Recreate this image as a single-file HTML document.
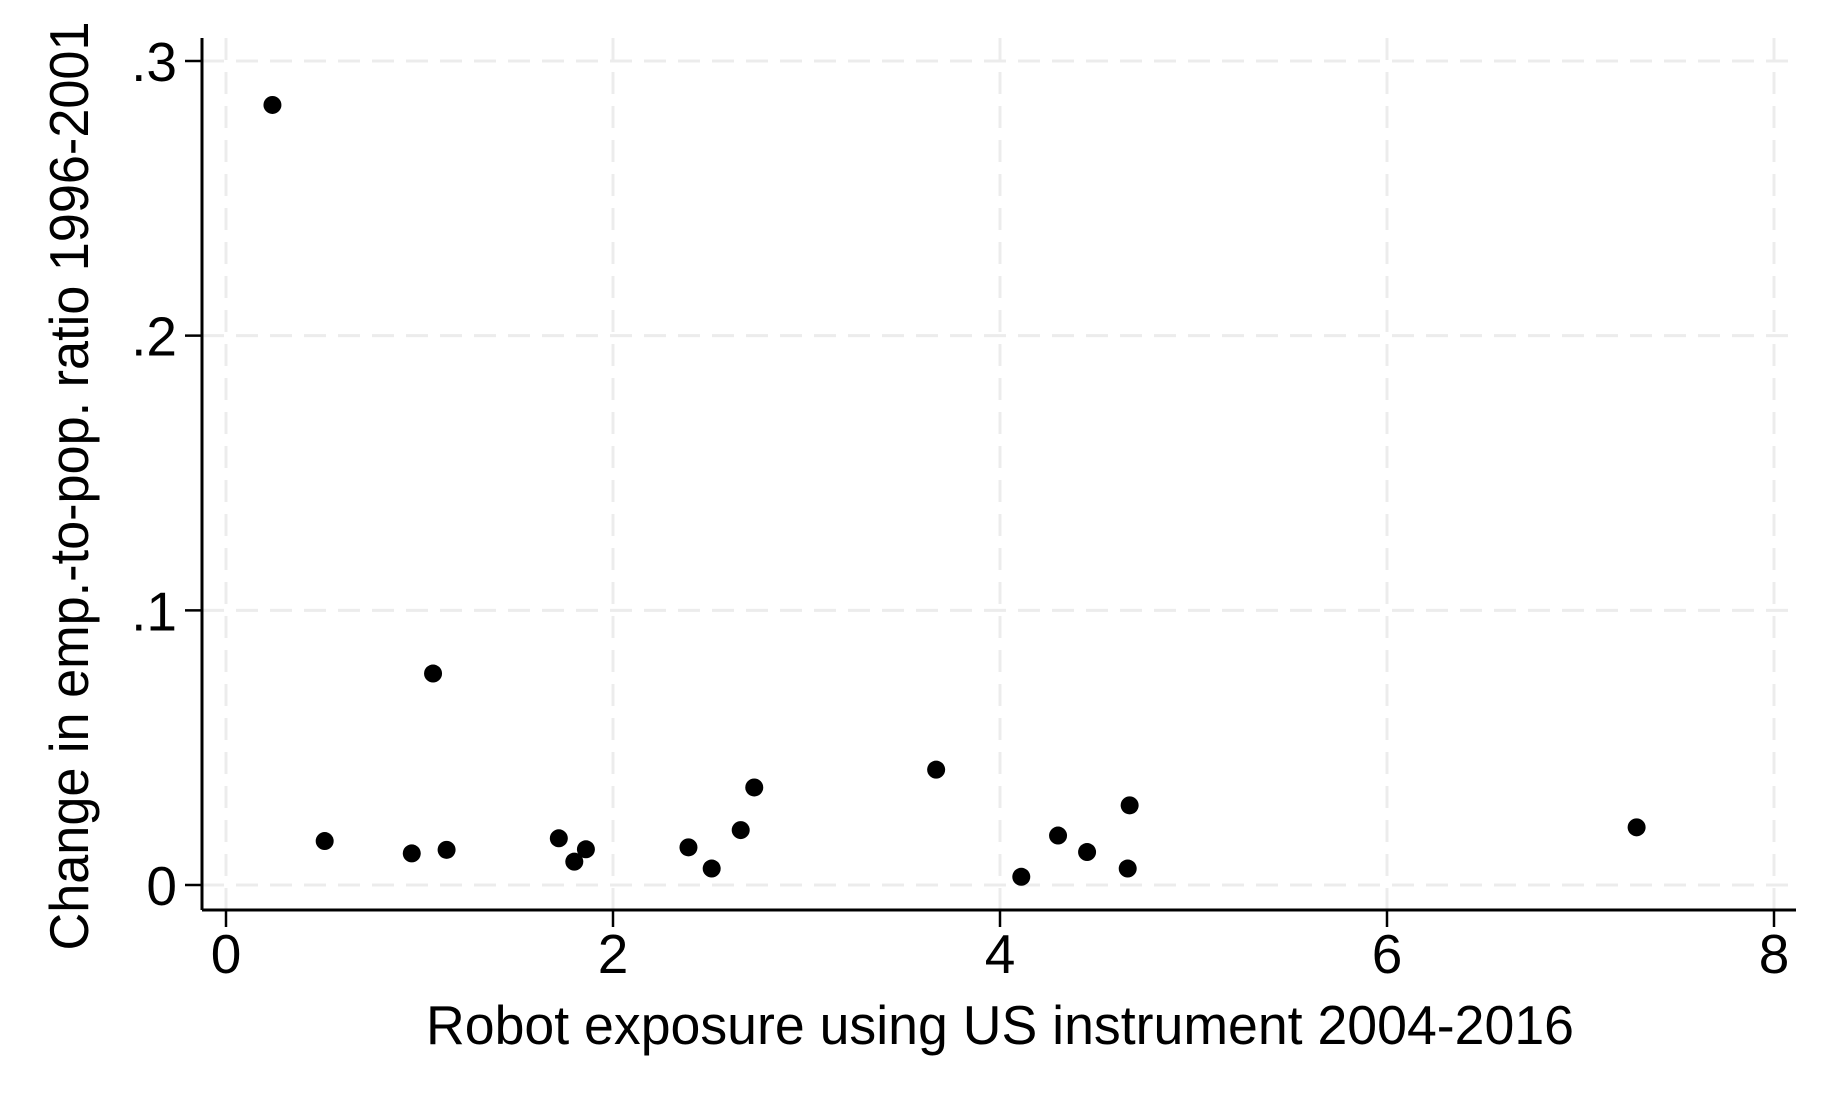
<!DOCTYPE html>
<html><head><meta charset="utf-8"><style>
html,body{margin:0;padding:0;background:#fff}
svg{display:block;font-family:"Liberation Sans",Arial,sans-serif}
</style></head><body>
<svg id="chart" width="1836" height="1102" viewBox="0 0 1836 1102" xmlns="http://www.w3.org/2000/svg">
<rect width="1836" height="1102" fill="#fff"/>
<g id="grid"></g>
<g id="axes"></g>
<g id="points"></g>
<text x="1000" y="1044" font-size="55" text-anchor="middle" textLength="1148" lengthAdjust="spacingAndGlyphs">Robot exposure using US instrument 2004-2016</text>
<text transform="translate(88,486) rotate(-90)" font-size="55" text-anchor="middle" textLength="929" lengthAdjust="spacingAndGlyphs">Change in emp.-to-pop. ratio 1996-2001</text>
</svg>
<script>
const xValues=[0.24,0.51,0.96,1.14,1.07,1.72,1.80,1.86,2.39,2.51,2.66,2.73,3.67,4.11,4.30,4.45,4.66,4.67,7.29];
const yValues=[0.284,0.016,0.0115,0.0128,0.077,0.017,0.0085,0.013,0.0137,0.006,0.020,0.0355,0.042,0.003,0.018,0.012,0.006,0.029,0.021];
const xTicks=[0,2,4,6,8];
const xTickLabels=["0","2","4","6","8"];
const yTicks=[0,0.1,0.2,0.3];
const yTickLabels=["0",".1",".2",".3"];
const NS="http://www.w3.org/2000/svg";
const X0=226,X8=1774,Y0=885,Y3=61;
const L=202,R=1796,T=38,B=910;
function sx(v){return X0+(X8-X0)*v/8;}
function sy(v){return Y0+(Y3-Y0)*v/0.3;}
function mk(tag,attrs,parent){const e=document.createElementNS(NS,tag);for(const k in attrs)e.setAttribute(k,attrs[k]);parent.appendChild(e);return e;}
const grid=document.getElementById('grid'),axes=document.getElementById('axes'),pts=document.getElementById('points');
xTicks.forEach((t,i)=>{
  const g=mk('line',{x1:sx(t),x2:sx(t),y1:T,y2:B,stroke:'#ececec','stroke-width':3,'stroke-dasharray':'22 12'},grid);
  
  
  const tk=mk('line',{x1:sx(t),x2:sx(t),y1:B,y2:B+17,stroke:'#000','stroke-width':2.5},axes);
  
  
  const lb=mk('text',{x:sx(t),y:973,'font-size':55,'text-anchor':'middle'},axes);
  lb.textContent=xTickLabels[i];
  
  
});
yTicks.forEach((t,i)=>{
  const g=mk('line',{x1:L,x2:R,y1:sy(t),y2:sy(t),stroke:'#ececec','stroke-width':3,'stroke-dasharray':'22 12'},grid);
  
  
  const tk=mk('line',{x1:L-17,x2:L,y1:sy(t),y2:sy(t),stroke:'#000','stroke-width':2.5},axes);
  
  
  const lb=mk('text',{x:L-25,y:sy(t)+20,'font-size':55,'text-anchor':'end'},axes);
  lb.textContent=yTickLabels[i];
  
  
});
const xa=mk('line',{x1:L,x2:R,y1:B,y2:B,stroke:'#000','stroke-width':3},axes);


const ya=mk('line',{x1:L,x2:L,y1:T,y2:B,stroke:'#000','stroke-width':3},axes);


xValues.forEach((v,i)=>{
  const c=mk('circle',{cx:sx(v),cy:sy(yValues[i]),r:9,fill:'#000'},pts);
  
  
});
</script>
</body></html>
